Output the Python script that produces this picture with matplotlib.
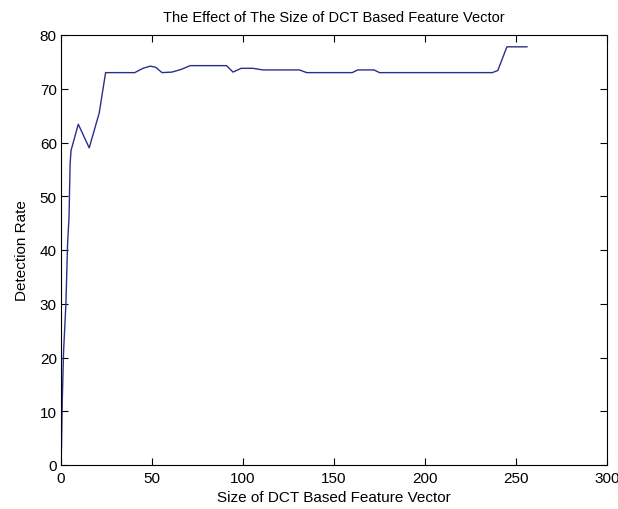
import matplotlib
matplotlib.use("Agg")
import matplotlib.pyplot as plt

plt.rcParams['font.family'] = ['Liberation Sans', 'DejaVu Sans']

feature_size = [0, 0.3, 0.7, 1.4, 2.7, 3.6, 4.4, 5.0, 5.5, 9.5, 15.5, 21, 24.5,
                40.5, 45, 49, 52, 55.5, 61, 66, 71, 91, 94.5, 99, 105.5, 111,
                131, 135, 160, 163, 172, 175, 237, 240, 245, 256]
detection_rate = [0, 4, 12, 21, 30, 41, 46, 56, 58.5, 63.4, 59, 65.5, 73,
                  73, 73.8, 74.2, 74.0, 73, 73.1, 73.6, 74.3, 74.3, 73.1, 73.8, 73.8, 73.5,
                  73.5, 73, 73, 73.5, 73.5, 73, 73, 73.4, 77.8, 77.8]

xticks = [0, 50, 100, 150, 200, 250, 300]
yticks = [0, 10, 20, 30, 40, 50, 60, 70, 80]

fig = plt.figure(figsize=(6.18, 5.10), dpi=100)
ax = fig.add_axes([61/618, 44/510, 546/618, 430/510])
ax.plot(feature_size, detection_rate, color='#2b2f8c', linewidth=1.0)
ax.set_xlim(0, 300)
ax.set_ylim(0, 80)
ax.set_xticks(xticks)
ax.set_yticks(yticks)
ax.tick_params(direction='in', length=5, width=0.8, top=True, right=True,
               labelsize=11, colors='black')
ax.tick_params(axis='x', pad=4)
ax.tick_params(axis='y', pad=3)
for s in ax.spines.values():
    s.set_linewidth(0.8)
ax.set_title('The Effect of The Size of DCT Based Feature Vector', fontsize=10.5, pad=10)
ax.set_xlabel('Size of DCT Based Feature Vector', fontsize=11, labelpad=4)
ax.set_ylabel('Detection Rate', fontsize=11, labelpad=8)

fig.savefig('out.png', dpi=100)
